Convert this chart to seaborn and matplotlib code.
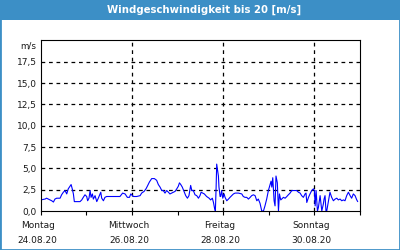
import matplotlib
matplotlib.use("Agg")
import matplotlib.pyplot as plt
import matplotlib.patches as mpatches
from matplotlib.transforms import ScaledTranslation
import seaborn as sns
import pandas as pd

# hours since Monday 24.08.20 00:00
hours = [0, 2.3, 3.1, 4.0, 5.8, 6.7, 7.5, 8.4, 10.2, 11.0, 11.9, 12.8, 13.7, 14.5, 15.4, 16.0,
         16.6, 17.2, 17.7, 18.9, 20.7, 21.6, 22.4, 23.3, 24.2, 24.7, 25.4, 26.0, 26.5, 27.2,
         27.7, 28.6, 29.5, 30.3, 31.6, 32.1, 33.0, 33.8, 34.7, 36.5, 38.2, 41.7, 43.1, 44.4,
         45.6, 46.7, 47.4, 48.8, 50.5, 52.3, 53.1, 54.4, 55.4, 56.1, 57.2, 58.4, 59.8, 61.0,
         61.9, 62.8, 63.7, 64.5, 65.4, 66.3, 67.2, 68.0, 68.9, 69.8, 70.7, 71.6, 72.4, 73.0,
         73.7, 74.5, 75.4, 76.3, 77.2, 78.0, 78.9, 79.5, 80.3, 81.2, 82.1, 83.0, 83.8, 84.4,
         85.2, 86.1, 87.3, 88.6, 89.4, 90.3, 90.9, 91.4, 91.9, 92.3, 92.6, 93.1, 93.5, 93.8,
         94.4, 94.7, 95.2, 95.8, 96.5, 97.0, 97.9, 98.8, 99.6, 100.5, 101.4, 102.3, 104.0,
         105.8, 106.6, 107.5, 108.4, 109.3, 110.2, 111.0, 111.9, 112.8, 113.7, 114.5, 115.4,
         116.3, 117.2, 118.0, 118.9, 119.8, 120.7, 121.2, 121.6, 122.1, 122.8, 123.3, 123.8,
         124.5, 125.1, 125.6, 126.3, 126.8, 127.7, 128.6, 129.5, 130.3, 131.2, 132.1, 133.0,
         134.7, 135.6, 136.5, 137.3, 138.2, 139.1, 139.6, 140.0, 140.9, 141.7, 142.6, 143.5,
         144.0, 144.4, 144.9, 145.6, 146.1, 147.0, 147.9, 148.7, 149.1, 149.6, 150.1, 150.5,
         151.4, 152.2, 153.1, 154.0, 154.9, 155.8, 156.6, 157.5, 158.4, 159.3, 160.1, 161.0,
         161.9, 162.8, 163.6, 164.5, 165.4, 166.3, 166.8]
speed = [1.3, 1.4, 1.5, 1.4, 1.2, 1.05, 1.4, 1.5, 1.5, 1.9, 2.2, 2.4, 2.0, 2.6, 2.9, 3.1,
         2.6, 2.0, 1.1, 1.1, 1.1, 1.3, 1.6, 1.9, 1.7, 1.2, 1.5, 2.4, 1.6, 2.0,
         1.4, 1.8, 1.1, 1.5, 2.2, 1.5, 1.2, 1.6, 1.7, 1.7, 1.7, 1.7, 2.1, 2.0,
         1.6, 1.6, 2.0, 1.7, 1.7, 1.8, 2.1, 2.3, 2.6, 2.9, 3.4, 3.8, 3.8, 3.6,
         3.1, 2.8, 2.4, 2.4, 2.1, 2.4, 2.2, 2.0, 2.1, 2.2, 2.3, 2.6, 2.9, 3.3,
         3.1, 2.8, 2.3, 1.8, 1.5, 1.8, 3.0, 2.4, 2.4, 1.9, 1.8, 1.5, 1.8, 2.2,
         2.1, 2.0, 1.7, 1.5, 1.3, 1.5, 1.0, 0.4, 0.0, 2.8, 5.5, 4.7, 4.1, 2.8,
         1.7, 1.7, 2.4, 1.5, 2.0, 1.6, 1.2, 1.4, 1.6, 1.8, 2.0, 2.1, 2.1,
         2.0, 1.7, 1.6, 1.6, 1.4, 1.6, 1.8, 1.9, 1.8, 1.2, 1.4, 0.9,
         0.0, 0.0, 0.6, 1.4, 2.4, 3.1, 3.5, 2.8, 3.9, 1.2, 0.6, 4.1,
         3.3, 0.0, 2.0, 1.3, 1.4, 1.6, 1.5, 1.7, 1.9, 2.1, 2.4, 2.4,
         2.4, 2.2, 2.1, 1.8, 1.6, 2.0, 2.1, 1.0, 1.6, 2.0, 2.4, 2.6,
         2.4, 0.6, 2.4, 0.0, 0.4, 1.8, 0.0, 0.8, 1.4, 1.8, 0.0, 0.0,
         1.2, 2.2, 1.6, 1.2, 1.4, 1.5, 1.3, 1.4, 1.2, 1.3, 1.2, 1.8,
         2.2, 1.8, 1.5, 2.0, 1.8, 1.3, 1.1]

day_names = ["Montag", "Mittwoch", "Freitag", "Sonntag"]
dates = ["24.08.20", "26.08.20", "28.08.20", "30.08.20"]
y_ticks = [0, 2.5, 5, 7.5, 10, 12.5, 15, 17.5]
y_labels = ["0,0", "2,5", "5,0", "7,5", "10,0", "12,5", "15,0", "17,5"]
title = "Windgeschwindigkeit bis 20 [m/s]"
unit = "m/s"

df = pd.DataFrame({"h": hours, "v": speed})

sns.set_theme(style="white")
plt.rcParams["font.family"] = ["DejaVu Sans"]

fig = plt.figure(figsize=(4, 2.5), dpi=100)
fig.patch.set_facecolor("white")
blue = "#3c8fc6"
# outer frame and title bar
fig.patches.append(mpatches.Rectangle((0, 0), 1, 1, transform=fig.transFigure,
                                      fill=False, edgecolor=blue, linewidth=2.0, zorder=0))
fig.patches.append(mpatches.Rectangle((0, 1 - 20 / 250), 1, 20 / 250, transform=fig.transFigure,
                                      facecolor=blue, edgecolor=blue, linewidth=0, zorder=1))
fig.text(0.51, 1 - 10 / 250, title, color="white", fontsize=7.3, fontweight="bold",
         ha="center", va="center")

ax = fig.add_axes([40.7 / 400, 39 / 250, (360 - 40.7) / 400, (211 - 40.4) / 250])
ax.set_facecolor("white")
sns.lineplot(data=df, x="h", y="v", ax=ax, color="#0000ff", linewidth=0.8,
             estimator=None, sort=False)

ax.set_xlim(0, 168)
ax.set_ylim(0, 20)
ax.set_xlabel("")
ax.set_ylabel("")

ax.set_yticks(y_ticks)
ax.set_yticklabels(y_labels, fontsize=6.5, color="#1a1a1a")
ax.tick_params(axis="y", length=0, pad=3)

ax.set_xticks([0, 48, 96, 144])
ax.set_xticks([24, 72, 120, 168], minor=True)
ax.set_xticklabels([f"{d}\n{t}" for d, t in zip(day_names, dates)], fontsize=6.5,
                   color="#1a1a1a")
ax.tick_params(axis="x", which="both", direction="out", length=3, width=0.8,
               color="black", bottom=True, pad=4)
for lbl in ax.get_xticklabels():
    lbl.set_linespacing(1.85)
    lbl.set_transform(lbl.get_transform() + ScaledTranslation(-3 / 100, 0, fig.dpi_scale_trans))

for yv in y_ticks[1:]:
    ax.axhline(yv, color="black", linestyle=(0, (3, 3)), linewidth=0.9, zorder=0)
for xv in [48, 96, 144]:
    ax.axvline(xv, color="black", linestyle=(0, (3, 3)), linewidth=0.9, zorder=0)

for s in ax.spines.values():
    s.set_visible(True)
    s.set_color("black")
    s.set_linewidth(0.8)

ax.text(-0.013, 19.4, unit, transform=ax.get_yaxis_transform(), ha="right", va="center",
        fontsize=6.3, color="#1a1a1a")

fig.savefig("out.png", dpi=100, facecolor="white")
